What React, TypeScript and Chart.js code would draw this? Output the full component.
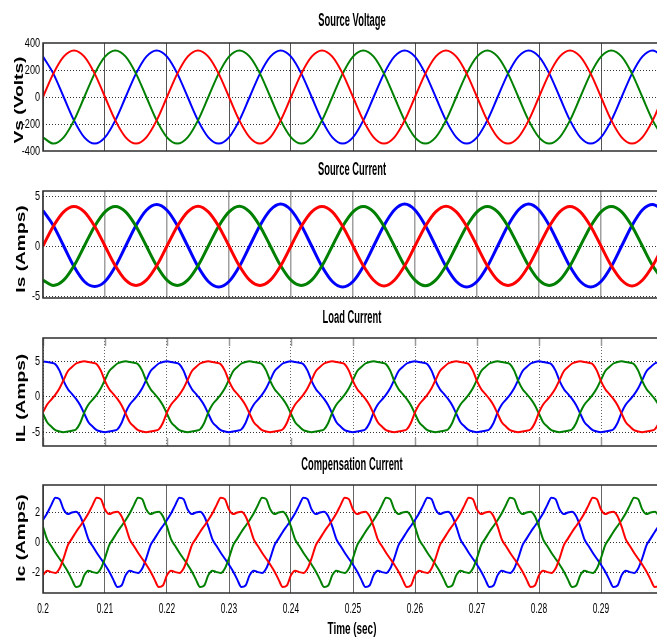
import React, { useEffect, useRef } from "react";
import { Chart, registerables } from "chart.js";

Chart.register(...registerables);

// ---------- tick values ----------
const timeTicks = [0.2, 0.21, 0.22, 0.23, 0.24, 0.25, 0.26, 0.27, 0.28, 0.29];
const vsTicks = [-400, -200, 0, 200, 400];
const isTicks = [-5, 0, 5];
const ilTicks = [-5, 0, 5];
const icTicks = [-2, 0, 2];

// ---------- sample instants (s) ----------
const tSlow = Array.from({ length: 61 }, (_, i) => 0.2 + i / 600);
const tFast = Array.from({ length: 151 }, (_, i) => 0.2 + i / 1500);

// ---------- Source voltage (V), every 1/600 s ----------
const vsRed = [
  0, 173, 299, 345, 299, 173, 0, -173, -299, -345, -299, -173,
  0, 173, 299, 345, 299, 173, 0, -173, -299, -345, -299, -173,
  0, 173, 299, 345, 299, 173, 0, -173, -299, -345, -299, -173,
  0, 173, 299, 345, 299, 173, 0, -173, -299, -345, -299, -173,
  0, 173, 299, 345, 299, 173, 0, -173, -299, -345, -299, -173,
  0,
];
const vsGreen = [
  -299, -345, -299, -173, 0, 173, 299, 345, 299, 173, 0, -173,
  -299, -345, -299, -173, 0, 173, 299, 345, 299, 173, 0, -173,
  -299, -345, -299, -173, 0, 173, 299, 345, 299, 173, 0, -173,
  -299, -345, -299, -173, 0, 173, 299, 345, 299, 173, 0, -173,
  -299, -345, -299, -173, 0, 173, 299, 345, 299, 173, 0, -173,
  -299,
];
const vsBlue = [
  299, 173, 0, -173, -299, -345, -299, -173, 0, 173, 299, 345,
  299, 173, 0, -173, -299, -345, -299, -173, 0, 173, 299, 345,
  299, 173, 0, -173, -299, -345, -299, -173, 0, 173, 299, 345,
  299, 173, 0, -173, -299, -345, -299, -173, 0, 173, 299, 345,
  299, 173, 0, -173, -299, -345, -299, -173, 0, 173, 299, 345,
  299,
];

// ---------- Source current (A), every 1/600 s ----------
const isRed = [
  0, 1.98, 3.42, 3.95, 3.42, 1.98, 0, -1.98, -3.42, -3.95, -3.42, -1.98,
  0, 1.98, 3.42, 3.98, 3.42, 1.98, 0, -1.98, -3.42, -3.95, -3.42, -1.98,
  0, 1.98, 3.42, 3.95, 3.42, 1.98, 0, -1.98, -3.42, -4.0, -3.42, -1.98,
  0, 1.98, 3.42, 3.98, 3.42, 1.98, 0, -1.98, -3.42, -3.95, -3.42, -1.98,
  0, 1.98, 3.42, 3.95, 3.42, 1.98, 0, -1.98, -3.42, -4.0, -3.42, -1.98,
  0,
];
const isGreen = [
  -3.42, -3.95, -3.42, -1.98, 0, 1.98, 3.42, 3.95, 3.42, 1.98, 0, -1.98,
  -3.42, -3.95, -3.42, -1.98, 0, 1.98, 3.42, 3.98, 3.42, 1.98, 0, -1.98,
  -3.42, -3.95, -3.42, -1.98, 0, 1.98, 3.42, 3.95, 3.42, 1.98, 0, -1.98,
  -3.42, -3.98, -3.42, -1.98, 0, 1.98, 3.42, 3.95, 3.42, 1.98, 0, -1.98,
  -3.42, -3.95, -3.42, -1.98, 0, 1.98, 3.42, 3.95, 3.42, 1.98, 0, -1.98,
  -3.42,
];
const isBlue = [
  3.55, 2.05, 0, -2.05, -3.55, -4.05, -3.55, -2.05, 0, 2.05, 3.58, 4.15,
  3.58, 2.05, 0, -2.05, -3.55, -4.1, -3.55, -2.05, 0, 2.05, 3.6, 4.2,
  3.6, 2.05, 0, -2.05, -3.55, -4.1, -3.55, -2.05, 0, 2.05, 3.6, 4.2,
  3.6, 2.05, 0, -2.05, -3.55, -4.1, -3.55, -2.05, 0, 2.05, 3.6, 4.2,
  3.6, 2.05, 0, -2.05, -3.55, -4.1, -3.55, -2.05, 0, 2.05, 3.6, 4.15,
  3.58,
];

// ---------- Load current (A), every 1/1500 s ----------
const ilRed = [
  -2.2, -1.1, -0.4, 0.3, 1.2, 2.4, 3.6, 4.2, 4.7, 4.9, 5.0, 4.9, 4.8, 4.6, 3.7, 2.2, 1.1, 0.4, -0.3, -1.2, -2.4, -3.6, -4.2, -4.7, -4.9, -5.0, -4.9, -4.8, -4.6, -3.7,
  -2.2, -1.1, -0.4, 0.3, 1.2, 2.4, 3.6, 4.2, 4.7, 4.9, 5.0, 4.9, 4.8, 4.6, 3.7, 2.2, 1.1, 0.4, -0.3, -1.2, -2.4, -3.6, -4.2, -4.7, -4.9, -5.0, -4.9, -4.8, -4.6, -3.7,
  -2.2, -1.1, -0.4, 0.3, 1.2, 2.4, 3.6, 4.2, 4.7, 4.9, 5.0, 4.9, 4.8, 4.6, 3.7, 2.2, 1.1, 0.4, -0.3, -1.2, -2.4, -3.6, -4.2, -4.7, -4.9, -5.0, -4.9, -4.8, -4.6, -3.7,
  -2.2, -1.1, -0.4, 0.3, 1.2, 2.4, 3.6, 4.2, 4.7, 4.9, 5.0, 4.9, 4.8, 4.6, 3.7, 2.2, 1.1, 0.4, -0.3, -1.2, -2.4, -3.6, -4.2, -4.7, -4.9, -5.0, -4.9, -4.8, -4.6, -3.7,
  -2.2, -1.1, -0.4, 0.3, 1.2, 2.4, 3.6, 4.2, 4.7, 4.9, 5.0, 4.9, 4.8, 4.6, 3.7, 2.2, 1.1, 0.4, -0.3, -1.2, -2.4, -3.6, -4.2, -4.7, -4.9, -5.0, -4.9, -4.8, -4.6, -3.7,
  -2.2,
];
const ilGreen = [
  -2.4, -3.6, -4.2, -4.7, -4.9, -5.0, -4.9, -4.8, -4.6, -3.7, -2.2, -1.1, -0.4, 0.3, 1.2, 2.4, 3.6, 4.2, 4.7, 4.9, 5.0, 4.9, 4.8, 4.6, 3.7, 2.2, 1.1, 0.4, -0.3, -1.2,
  -2.4, -3.6, -4.2, -4.7, -4.9, -5.0, -4.9, -4.8, -4.6, -3.7, -2.2, -1.1, -0.4, 0.3, 1.2, 2.4, 3.6, 4.2, 4.7, 4.9, 5.0, 4.9, 4.8, 4.6, 3.7, 2.2, 1.1, 0.4, -0.3, -1.2,
  -2.4, -3.6, -4.2, -4.7, -4.9, -5.0, -4.9, -4.8, -4.6, -3.7, -2.2, -1.1, -0.4, 0.3, 1.2, 2.4, 3.6, 4.2, 4.7, 4.9, 5.0, 4.9, 4.8, 4.6, 3.7, 2.2, 1.1, 0.4, -0.3, -1.2,
  -2.4, -3.6, -4.2, -4.7, -4.9, -5.0, -4.9, -4.8, -4.6, -3.7, -2.2, -1.1, -0.4, 0.3, 1.2, 2.4, 3.6, 4.2, 4.7, 4.9, 5.0, 4.9, 4.8, 4.6, 3.7, 2.2, 1.1, 0.4, -0.3, -1.2,
  -2.4, -3.6, -4.2, -4.7, -4.9, -5.0, -4.9, -4.8, -4.6, -3.7, -2.2, -1.1, -0.4, 0.3, 1.2, 2.4, 3.6, 4.2, 4.7, 4.9, 5.0, 4.9, 4.8, 4.6, 3.7, 2.2, 1.1, 0.4, -0.3, -1.2,
  -2.4,
];
const ilBlue = [
  5.0, 4.9, 4.8, 4.6, 3.7, 2.2, 1.1, 0.4, -0.3, -1.2, -2.4, -3.6, -4.2, -4.7, -4.9, -5.0, -4.9, -4.8, -4.6, -3.7, -2.2, -1.1, -0.4, 0.3, 1.2, 2.4, 3.6, 4.2, 4.7, 4.9,
  5.0, 4.9, 4.8, 4.6, 3.7, 2.2, 1.1, 0.4, -0.3, -1.2, -2.4, -3.6, -4.2, -4.7, -4.9, -5.0, -4.9, -4.8, -4.6, -3.7, -2.2, -1.1, -0.4, 0.3, 1.2, 2.4, 3.6, 4.2, 4.7, 4.9,
  5.0, 4.9, 4.8, 4.6, 3.7, 2.2, 1.1, 0.4, -0.3, -1.2, -2.4, -3.6, -4.2, -4.7, -4.9, -5.0, -4.9, -4.8, -4.6, -3.7, -2.2, -1.1, -0.4, 0.3, 1.2, 2.4, 3.6, 4.2, 4.7, 4.9,
  5.0, 4.9, 4.8, 4.6, 3.7, 2.2, 1.1, 0.4, -0.3, -1.2, -2.4, -3.6, -4.2, -4.7, -4.9, -5.0, -4.9, -4.8, -4.6, -3.7, -2.2, -1.1, -0.4, 0.3, 1.2, 2.4, 3.6, 4.2, 4.7, 4.9,
  5.0, 4.9, 4.8, 4.6, 3.7, 2.2, 1.1, 0.4, -0.3, -1.2, -2.4, -3.6, -4.2, -4.7, -4.9, -5.0, -4.9, -4.8, -4.6, -3.7, -2.2, -1.1, -0.4, 0.3, 1.2, 2.4, 3.6, 4.2, 4.7, 4.9,
  5.0,
];

// ---------- Compensation current (A), every 1/1500 s ----------
const icRed = [
  -2.2, -1.9, -2.0, -2.05, -1.75, -1.05, -0.2, 0.25, 0.7, 1.1, 1.5, 1.95, 2.5, 3.0, 2.9, 2.2, 1.9, 2.0, 2.05, 1.75, 1.05, 0.2, -0.25, -0.7, -1.1, -1.5, -1.95, -2.5, -3.0, -2.9,
  -2.2, -1.9, -2.0, -2.05, -1.75, -1.05, -0.2, 0.25, 0.7, 1.1, 1.5, 1.95, 2.5, 3.0, 2.9, 2.2, 1.9, 2.0, 2.05, 1.75, 1.05, 0.2, -0.25, -0.7, -1.1, -1.5, -1.95, -2.5, -3.0, -2.9,
  -2.2, -1.9, -2.0, -2.05, -1.75, -1.05, -0.2, 0.25, 0.7, 1.1, 1.5, 1.95, 2.5, 3.0, 2.9, 2.2, 1.9, 2.0, 2.05, 1.75, 1.05, 0.2, -0.25, -0.7, -1.1, -1.5, -1.95, -2.5, -3.0, -2.9,
  -2.2, -1.9, -2.0, -2.05, -1.75, -1.05, -0.2, 0.25, 0.7, 1.1, 1.5, 1.95, 2.5, 3.0, 2.9, 2.2, 1.9, 2.0, 2.05, 1.75, 1.05, 0.2, -0.25, -0.7, -1.1, -1.5, -1.95, -2.5, -3.0, -2.9,
  -2.2, -1.9, -2.0, -2.05, -1.75, -1.05, -0.2, 0.25, 0.7, 1.1, 1.5, 1.95, 2.5, 3.0, 2.9, 2.2, 1.9, 2.0, 2.05, 1.75, 1.05, 0.2, -0.25, -0.7, -1.1, -1.5, -1.95, -2.5, -3.0, -2.9,
  -2.2,
];
const icGreen = [
  1.05, 0.2, -0.25, -0.7, -1.1, -1.5, -1.95, -2.5, -3.0, -2.9, -2.2, -1.9, -2.0, -2.05, -1.75, -1.05, -0.2, 0.25, 0.7, 1.1, 1.5, 1.95, 2.5, 3.0, 2.9, 2.2, 1.9, 2.0, 2.05, 1.75,
  1.05, 0.2, -0.25, -0.7, -1.1, -1.5, -1.95, -2.5, -3.0, -2.9, -2.2, -1.9, -2.0, -2.05, -1.75, -1.05, -0.2, 0.25, 0.7, 1.1, 1.5, 1.95, 2.5, 3.0, 2.9, 2.2, 1.9, 2.0, 2.05, 1.75,
  1.05, 0.2, -0.25, -0.7, -1.1, -1.5, -1.95, -2.5, -3.0, -2.9, -2.2, -1.9, -2.0, -2.05, -1.75, -1.05, -0.2, 0.25, 0.7, 1.1, 1.5, 1.95, 2.5, 3.0, 2.9, 2.2, 1.9, 2.0, 2.05, 1.75,
  1.05, 0.2, -0.25, -0.7, -1.1, -1.5, -1.95, -2.5, -3.0, -2.9, -2.2, -1.9, -2.0, -2.05, -1.75, -1.05, -0.2, 0.25, 0.7, 1.1, 1.5, 1.95, 2.5, 3.0, 2.9, 2.2, 1.9, 2.0, 2.05, 1.75,
  1.05, 0.2, -0.25, -0.7, -1.1, -1.5, -1.95, -2.5, -3.0, -2.9, -2.2, -1.9, -2.0, -2.05, -1.75, -1.05, -0.2, 0.25, 0.7, 1.1, 1.5, 1.95, 2.5, 3.0, 2.9, 2.2, 1.9, 2.0, 2.05, 1.75,
  1.05,
];
const icBlue = [
  1.5, 1.95, 2.5, 3.0, 2.9, 2.2, 1.9, 2.0, 2.05, 1.75, 1.05, 0.2, -0.25, -0.7, -1.1, -1.5, -1.95, -2.5, -3.0, -2.9, -2.2, -1.9, -2.0, -2.05, -1.75, -1.05, -0.2, 0.25, 0.7, 1.1,
  1.5, 1.95, 2.5, 3.0, 2.9, 2.2, 1.9, 2.0, 2.05, 1.75, 1.05, 0.2, -0.25, -0.7, -1.1, -1.5, -1.95, -2.5, -3.0, -2.9, -2.2, -1.9, -2.0, -2.05, -1.75, -1.05, -0.2, 0.25, 0.7, 1.1,
  1.5, 1.95, 2.5, 3.0, 2.9, 2.2, 1.9, 2.0, 2.05, 1.75, 1.05, 0.2, -0.25, -0.7, -1.1, -1.5, -1.95, -2.5, -3.0, -2.9, -2.2, -1.9, -2.0, -2.05, -1.75, -1.05, -0.2, 0.25, 0.7, 1.1,
  1.5, 1.95, 2.5, 3.0, 2.9, 2.2, 1.9, 2.0, 2.05, 1.75, 1.05, 0.2, -0.25, -0.7, -1.1, -1.5, -1.95, -2.5, -3.0, -2.9, -2.2, -1.9, -2.0, -2.05, -1.75, -1.05, -0.2, 0.25, 0.7, 1.1,
  1.5, 1.95, 2.5, 3.0, 2.9, 2.2, 1.9, 2.0, 2.05, 1.75, 1.05, 0.2, -0.25, -0.7, -1.1, -1.5, -1.95, -2.5, -3.0, -2.9, -2.2, -1.9, -2.0, -2.05, -1.75, -1.05, -0.2, 0.25, 0.7, 1.1,
  1.5,
];

const RED = "#ff0000";
const GREEN = "#008000";
const BLUE = "#0000ff";
const FONT = '"Liberation Sans", Arial, sans-serif';

type PanelDef = {
  title: string;
  yTitle: string;
  top: number;
  height: number;
  padTop: number;
  padBottom: number;
  yMin: number;
  yMax: number;
  yTicks: number[];
  time: number[];
  red: number[];
  green: number[];
  blue: number[];
  lineWidth: number;
  vColor: string;
  vWidth: number;
  vDash: number[];
  innerTicks: boolean;
  titleY: number;
  yTitleX: number;
  yTitleY: number;
  bottom: boolean;
};

const panels: PanelDef[] = [
  {
    title: "Source Voltage", yTitle: "Vs (Volts)", top: 0, height: 160, padTop: 43, padBottom: 9,
    yMin: -400, yMax: 400, yTicks: vsTicks, time: tSlow, red: vsRed, green: vsGreen, blue: vsBlue,
    lineWidth: 2, vColor: "#555555", vWidth: 1, vDash: [], innerTicks: false,
    titleY: 21, yTitleX: 19, yTitleY: 100, bottom: false,
  },
  {
    title: "Source Current", yTitle: "Is (Amps)", top: 160, height: 148, padTop: 31, padBottom: 10,
    yMin: -5.2, yMax: 5.5, yTicks: isTicks, time: tSlow, red: isRed, green: isGreen, blue: isBlue,
    lineWidth: 3, vColor: "#a0a0a0", vWidth: 1.5, vDash: [], innerTicks: false,
    titleY: 170, yTitleX: 21, yTitleY: 249, bottom: false,
  },
  {
    title: "Load Current", yTitle: "IL (Amps)", top: 308, height: 147, padTop: 30, padBottom: 9,
    yMin: -6.95, yMax: 8.3, yTicks: ilTicks, time: tFast, red: ilRed, green: ilGreen, blue: ilBlue,
    lineWidth: 2, vColor: "#666666", vWidth: 1, vDash: [1, 2], innerTicks: true,
    titleY: 318, yTitleX: 21, yTitleY: 398, bottom: false,
  },
  {
    title: "Compensation Current", yTitle: "Ic (Amps)", top: 455, height: 185, padTop: 30, padBottom: 47,
    yMin: -3.4, yMax: 3.85, yTicks: icTicks, time: tFast, red: icRed, green: icGreen, blue: icBlue,
    lineWidth: 2, vColor: "#666666", vWidth: 1, vDash: [], innerTicks: false,
    titleY: 465, yTitleX: 21, yTitleY: 538, bottom: true,
  },
];

function drawText(
  ctx: CanvasRenderingContext2D, text: string, x: number, y: number, font: string,
  sx: number, align: CanvasTextAlign, rot = 0
) {
  ctx.save();
  ctx.translate(x, y);
  if (rot) ctx.rotate(rot);
  ctx.scale(sx, 1);
  ctx.font = font;
  ctx.textAlign = align;
  ctx.textBaseline = "middle";
  ctx.fillStyle = "#000";
  ctx.fillText(text, 0, 0);
  ctx.restore();
}

function makeDecor(p: PanelDef) {
  return {
    id: "decor",
    afterDraw(chart: any) {
      const ctx: CanvasRenderingContext2D = chart.ctx;
      const a = chart.chartArea;
      const ys = chart.scales.y;
      const xs = chart.scales.x;
      ctx.save();
      if (p.innerTicks) {
        ctx.strokeStyle = "#9a9a9a";
        ctx.lineWidth = 1.5;
        timeTicks.forEach((v) => {
          const x = Math.round(xs.getPixelForValue(v)) + 0.5;
          ctx.beginPath();
          ctx.moveTo(x, a.top);
          ctx.lineTo(x, a.top + 8);
          ctx.moveTo(x, a.bottom);
          ctx.lineTo(x, a.bottom - 8);
          ctx.stroke();
        });
      }
      ctx.strokeStyle = "#2e2e2e";
      ctx.lineWidth = 1.5;
      ctx.strokeRect(a.left, a.top, a.right - a.left, a.bottom - a.top);
      ctx.restore();
      const cx = (a.left + a.right) / 2 - 1;
      drawText(ctx, p.title, cx, p.titleY - p.top, `bold 18px ${FONT}`, 0.52, "center");
      drawText(ctx, p.yTitle, p.yTitleX, p.yTitleY - p.top, `bold 13.5px ${FONT}`, 1.42, "center", -Math.PI / 2);
      p.yTicks.forEach((v) => {
        const y = ys.getPixelForValue(v);
        drawText(ctx, String(v), 40, y, `13px ${FONT}`, 0.7, "right");
      });
      if (p.bottom) {
        timeTicks.forEach((v) => {
          const x = xs.getPixelForValue(v);
          drawText(ctx, String(v), x, 609 - p.top, `14px ${FONT}`, 0.6, "center");
        });
        drawText(ctx, "Time (sec)", cx, 630 - p.top, `bold 16px ${FONT}`, 0.62, "center");
      }
    },
  };
}

function Panel({ p }: { p: PanelDef }) {
  const ref = useRef<HTMLCanvasElement | null>(null);
  useEffect(() => {
    if (!ref.current) return;
    const mk = (arr: number[]) => p.time.map((t, i) => ({ x: t, y: arr[i] }));
    const ds = (label: string, arr: number[], color: string) => ({
      label,
      data: mk(arr),
      borderColor: color,
      backgroundColor: color,
      borderWidth: p.lineWidth,
      pointRadius: 0,
      fill: false,
      cubicInterpolationMode: "monotone" as const,
    });
    const chart = new Chart(ref.current, {
      type: "line",
      data: {
        datasets: [ds("a", p.red, RED), ds("b", p.green, GREEN), ds("c", p.blue, BLUE)],
      },
      plugins: [makeDecor(p)],
      options: {
        responsive: false,
        animation: false,
        devicePixelRatio: 1,
        events: [],
        layout: { padding: { top: p.padTop, bottom: p.padBottom, left: 0, right: 0 } },
        plugins: { legend: { display: false }, tooltip: { enabled: false }, title: { display: false } },
        scales: {
          x: {
            type: "linear",
            min: 0.2,
            max: 0.3,
            afterBuildTicks: (s: any) => { s.ticks = timeTicks.map((v) => ({ value: v })); },
            afterFit: (s: any) => { s.height = 0; },
            ticks: { display: false },
            grid: { color: p.vColor, lineWidth: p.vWidth, drawTicks: false },
            border: { display: false, dash: p.vDash },
          },
          y: {
            type: "linear",
            min: p.yMin,
            max: p.yMax,
            afterBuildTicks: (s: any) => { s.ticks = p.yTicks.map((v) => ({ value: v })); },
            afterFit: (s: any) => { s.width = 43; },
            ticks: { display: false },
            grid: {
              color: (c: any) =>
                c.tick && (c.tick.value === p.yMin || c.tick.value === p.yMax) ? "rgba(0,0,0,0)" : "#333333",
              lineWidth: 1,
              drawTicks: false,
            },
            border: { display: false, dash: [1, 2] },
          },
        },
      } as any,
    });
    return () => chart.destroy();
  }, [p]);
  return (
    <canvas
      ref={ref}
      width={663}
      height={p.height}
      style={{ position: "absolute", left: 0, top: p.top, width: 663, height: p.height }}
    />
  );
}

export default function App() {
  useEffect(() => {
    document.body.style.margin = "0";
    document.body.style.background = "#ffffff";
  }, []);
  return (
    <div style={{ position: "relative", width: 657, height: 640, overflow: "hidden", background: "#ffffff" }}>
      {panels.map((p) => (
        <Panel key={p.title} p={p} />
      ))}
    </div>
  );
}
